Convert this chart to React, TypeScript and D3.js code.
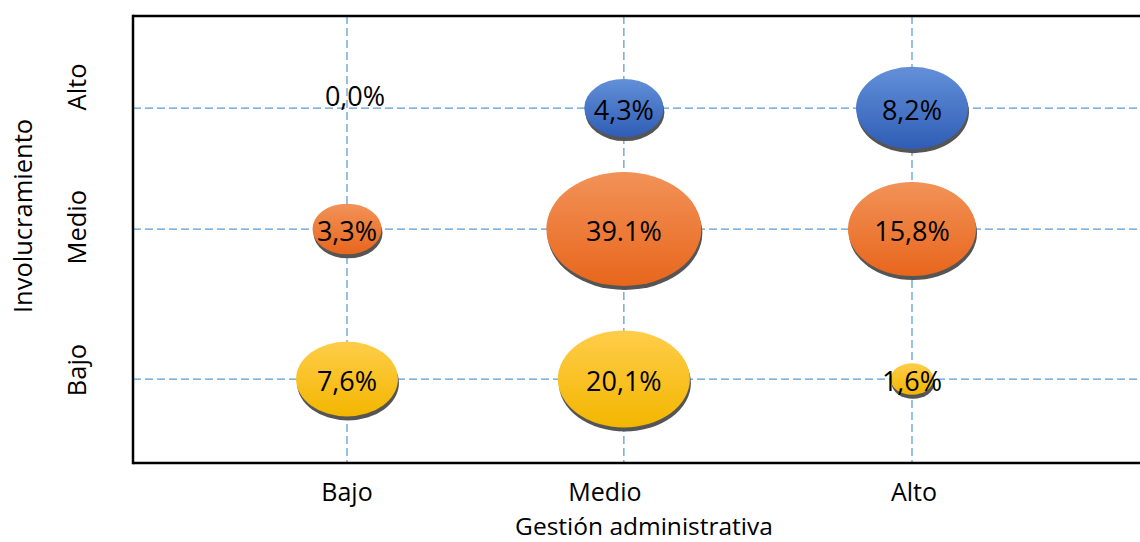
import React from "react";
import * as d3 from "d3";

// ---- data ----
const xCategories = ["Bajo", "Medio", "Alto"];
const yCategories = ["Bajo", "Medio", "Alto"];
// numeric positions of categories on the value axes
const xCategoryPos = [1, 1.98, 3];
const yCategoryPos = [1, 2.107, 3];
// positions of the category tick labels
const xLabelPos = [1, 1.913, 3.007];
const yLabelPos = [1.066, 2.12, 3.155];

const seriesNames = ["Alto", "Medio", "Bajo"]; // series = Involucramiento level
const seriesColorsTop = ["#6390d8", "#f29258", "#ffcd4a"];
const seriesColorsBottom = ["#2f5db6", "#e8661c", "#f3b600"];

const pointGestion = ["Bajo", "Medio", "Alto", "Bajo", "Medio", "Alto", "Bajo", "Medio", "Alto"];
const pointInvol = ["Alto", "Alto", "Alto", "Medio", "Medio", "Medio", "Bajo", "Bajo", "Bajo"];
const percentLabels = ["0,0%", "4,3%", "8,2%", "3,3%", "39.1%", "15,8%", "7,6%", "20,1%", "1,6%"];
const bubbleSize = [0, 10.2, 20.4, 7.75, 39.1, 26.7, 16.9, 28.4, 3.0];

const xTitle = "Gestión administrativa";
const yTitle = "Involucramiento";

const W = 1140;
const H = 542;
const FONT = "'Open Sans', 'Liberation Sans', sans-serif";

export default function App() {
  const plotLeft = 133;
  const plotTop = 16;
  const plotBottom = 463;
  const plotRight = W;

  const x = d3.scaleLinear().domain([1, 3]).range([347, 912]);
  const y = d3.scaleLinear().domain([1, 3]).range([379, 108]);
  const r = d3.scaleSqrt().domain([0, 39.1]).range([0, 77.5]);
  const aspect = 0.735;

  const xOf = (c: string) => x(xCategoryPos[xCategories.indexOf(c)]);
  const yOf = (c: string) => y(yCategoryPos[yCategories.indexOf(c)]);

  const grid = "#5b9bd5";

  return (
    <svg
      width={W}
      height={H}
      style={{ position: "absolute", left: 0, top: 0, background: "#fff" }}
      fontFamily={FONT}
    >
      <defs>
        {seriesNames.map((s, i) => (
          <linearGradient key={s} id={`grad-${i}`} x1="0" y1="0" x2="0" y2="1">
            <stop offset="0%" stopColor={seriesColorsTop[i]} />
            <stop offset="100%" stopColor={seriesColorsBottom[i]} />
          </linearGradient>
        ))}
      </defs>
      <rect x={0} y={0} width={W} height={H} fill="#fff" />

      {/* gridlines */}
      {xCategoryPos.map((v, i) => (
        <line
          key={"vx" + i}
          x1={x(v)}
          x2={x(v)}
          y1={plotTop}
          y2={plotBottom}
          stroke={grid}
          strokeWidth={1.25}
          strokeDasharray="8,4"
        />
      ))}
      {yCategoryPos.map((v, i) => (
        <line
          key={"hy" + i}
          x1={plotLeft}
          x2={plotRight}
          y1={y(v)}
          y2={y(v)}
          stroke={grid}
          strokeWidth={1.25}
          strokeDasharray="8,4"
        />
      ))}

      {/* frame */}
      <line x1={plotLeft} x2={plotRight} y1={plotTop} y2={plotTop} stroke="#000" strokeWidth={2.5} />
      <line x1={plotLeft} x2={plotRight} y1={plotBottom} y2={plotBottom} stroke="#000" strokeWidth={2.5} />
      <line x1={plotLeft} x2={plotLeft} y1={plotTop - 1.25} y2={plotBottom + 1.25} stroke="#000" strokeWidth={2.5} />

      {/* bubbles */}
      {bubbleSize.map((s, i) => {
        const cx = xOf(pointGestion[i]);
        const cy = yOf(pointInvol[i]);
        const rx = r(s);
        const ry = rx * aspect;
        const si = seriesNames.indexOf(pointInvol[i]);
        if (rx <= 0) return null;
        return (
          <g key={"b" + i}>
            <ellipse cx={cx + 1} cy={cy + 4} rx={rx} ry={ry} fill="#555" />
            <ellipse cx={cx} cy={cy} rx={rx} ry={ry} fill={`url(#grad-${si})`} />
          </g>
        );
      })}

      {/* data labels */}
      {percentLabels.map((t, i) => {
        const cx = xOf(pointGestion[i]);
        const cy = yOf(pointInvol[i]);
        const above = bubbleSize[i] === 0;
        return (
          <text
            key={"l" + i}
            x={cx + (above ? 8 : 0)}
            y={above ? cy - 2 : cy + 12}
            textAnchor="middle"
            fontSize={27}
            fill="#000"
          >
            {t}
          </text>
        );
      })}

      {/* x category labels */}
      {xCategories.map((c, i) => (
        <text key={"xc" + i} x={x(xLabelPos[i])} y={501} textAnchor="middle" fontSize={25} fill="#000">
          {c}
        </text>
      ))}
      {/* y category labels */}
      {yCategories.map((c, i) => {
        const yy = y(yLabelPos[i]);
        return (
          <text
            key={"yc" + i}
            transform={`translate(86,${yy}) rotate(-90)`}
            textAnchor="middle"
            fontSize={25.5}
            fill="#000"
          >
            {c}
          </text>
        );
      })}

      {/* axis titles */}
      <text x={644} y={534.5} textAnchor="middle" fontSize={24.5} fill="#000">
        {xTitle}
      </text>
      <text transform={`translate(32,216) rotate(-90)`} textAnchor="middle" fontSize={25.5} fill="#000">
        {yTitle}
      </text>
    </svg>
  );
}
